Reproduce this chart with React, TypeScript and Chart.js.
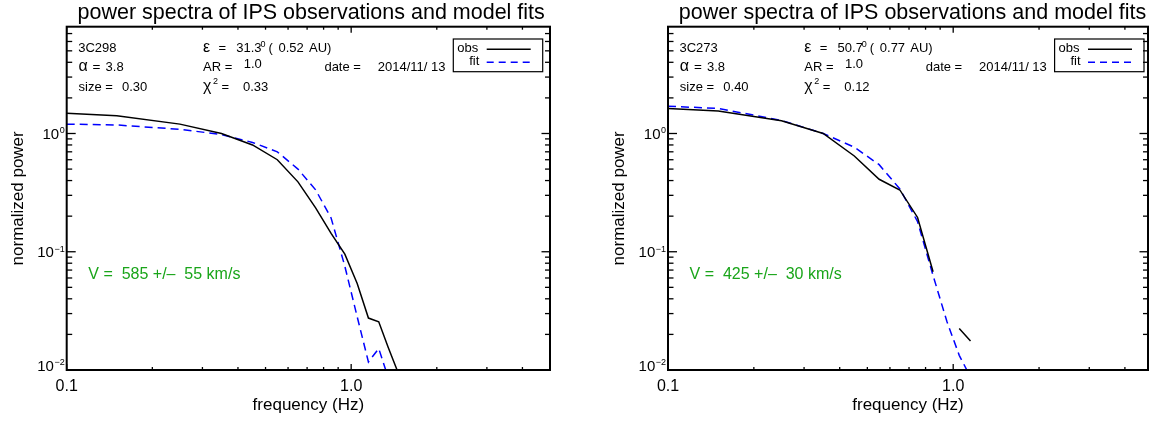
import React, { useEffect, useRef } from 'react';
import { Chart, registerables } from 'chart.js';

Chart.register(...registerables);

// ---------- data ----------
const TITLE = 'power spectra of IPS observations and model fits';
const X_LABEL = 'frequency (Hz)';
const Y_LABEL = 'normalized power';

const xMajorTicks = [0.1, 1.0];
const xMajorLabels = ['0.1', '1.0'];
const xMinorTicks = [0.2, 0.3, 0.4, 0.5, 0.6, 0.7, 0.8, 0.9, 2, 3, 4, 5];
const yMajorTicks = [0.01, 0.1, 1];
const yMajorExponents = ['\u22122', '\u22121', '0'];
const yMinorTicks = [
  0.02, 0.03, 0.04, 0.05, 0.06, 0.07, 0.08, 0.09,
  0.2, 0.3, 0.4, 0.5, 0.6, 0.7, 0.8, 0.9,
  2, 3, 4, 5, 6, 7, 8,
];

const freqLeft = [0.1, 0.15, 0.25, 0.35, 0.45, 0.55, 0.65, 0.75, 0.85, 0.95, 1.05, 1.15, 1.25, 1.35, 1.45, 1.55];
const obsLeft = [1.48, 1.41, 1.2, 1.0, 0.8, 0.6, 0.39, 0.235, 0.143, 0.0955, 0.0538, 0.0275, 0.0256, 0.0155, 0.01, 0.0065];
const fitLeft = [1.2, 1.18, 1.085, 0.98, 0.84, 0.7, 0.5, 0.334, 0.193, 0.0755, 0.0282, 0.0117, 0.0152, 0.0086, 0.005, 0.003];

const freqRight = [0.1, 0.15, 0.25, 0.35, 0.45, 0.55, 0.65, 0.75, 0.85, 0.95, 1.05, 1.15];
const obsRight = [1.63, 1.55, 1.28, 1.0, 0.645, 0.41, 0.333, 0.195, 0.0677, null, 0.0224, 0.0176];
const fitRight = [1.7, 1.63, 1.29, 1.0, 0.766, 0.545, 0.34, 0.18, 0.063, 0.0258, 0.0133, 0.0087];

const sourcesNames = ['3C298', '3C273'];
const elongations = ['31.3', '50.7'];
const distances = ['0.52', '0.77'];
const alphas = ['3.8', '3.8'];
const axialRatios = ['1.0', '1.0'];
const dates = ['2014/11/ 13', '2014/11/ 13'];
const sizes = ['0.30', '0.40'];
const chi2s = ['0.33', '0.12'];
const velocities = ['585', '425'];
const velocityErrs = ['55', '30'];
const xMaxes = [5, 4.82];
const yRange = [0.01, 8];

// ---------- layout ----------
const FONT = '"Liberation Sans", Arial, Helvetica, sans-serif';
const W = 580;
const H = 421;
const PLOT_TOP = 26.7;
const PLOT_BOTTOM = 370;
const plotLefts = [66.7, 88];
const plotRights = [550, 568];

function makePlugin(i: number) {
  return {
    id: 'idlDecor' + i,
    afterDraw(chart: any) {
      const ctx: CanvasRenderingContext2D = chart.ctx;
      const { left: L, right: R, top: T, bottom: B } = chart.chartArea;
      const xs = chart.scales.x;
      const ys = chart.scales.y;
      const txt = (s: string, x: number, y: number, size: number, align: CanvasTextAlign = 'left', color = '#000') => {
        ctx.font = `${size}px ${FONT}`;
        ctx.fillStyle = color;
        ctx.textAlign = align;
        ctx.textBaseline = 'alphabetic';
        ctx.fillText(s, x, y);
      };
      ctx.save();
      // frame
      ctx.strokeStyle = '#000';
      ctx.lineWidth = 2;
      ctx.strokeRect(L, T, R - L, B - T);
      ctx.lineWidth = 1.3;
      const vline = (x: number, y0: number, y1: number) => {
        ctx.beginPath(); ctx.moveTo(x, y0); ctx.lineTo(x, y1); ctx.stroke();
      };
      const hline = (y: number, x0: number, x1: number) => {
        ctx.beginPath(); ctx.moveTo(x0, y); ctx.lineTo(x1, y); ctx.stroke();
      };
      // x ticks
      xMinorTicks.forEach((v) => {
        const x = xs.getPixelForValue(v);
        if (x <= L + 0.5 || x >= R - 0.5) return;
        vline(x, B, B - 3);
        vline(x, T, T + 3);
      });
      xMajorTicks.forEach((v, k) => {
        const x = xs.getPixelForValue(v);
        vline(x, B, B - 6);
        vline(x, T, T + 6);
        txt(xMajorLabels[k], x, 391, 16, 'center');
      });
      // y ticks
      yMinorTicks.forEach((v) => {
        const y = ys.getPixelForValue(v);
        if (y <= T + 0.5 || y >= B - 0.5) return;
        hline(y, L, L + 5.5);
        hline(y, R, R - 5);
      });
      yMajorTicks.forEach((v, k) => {
        const y = ys.getPixelForValue(v);
        hline(y, L, L + 9);
        hline(y, R, R - 8.5);
        const base = Math.min(y + 5.5, B + 0.5);
        ctx.font = `9px ${FONT}`;
        const supW = ctx.measureText(yMajorExponents[k]).width;
        txt(yMajorExponents[k], L - 2, base - 5.5, 9, 'right');
        txt('10', L - 2.5 - supW, base, 15, 'right');
      });
      // axis titles
      txt(X_LABEL, (L + R) / 2, 410, 17, 'center');
      ctx.save();
      ctx.translate(L - 44, (T + B) / 2);
      ctx.rotate(-Math.PI / 2);
      txt(Y_LABEL, 0, 0, 17, 'center');
      ctx.restore();
      // title
      txt(TITLE, L + 244.5, 19, 21.5, 'center');
      // annotations
      txt(sourcesNames[i], L + 11.5, 52, 13);
      txt('\u03b5', L + 136.3, 52, 16);
      txt('=', L + 151.8, 52, 13);
      txt(elongations[i], L + 169.6, 52, 13);
      txt('0', L + 193.7, 47, 9);
      txt('(', L + 201.8, 52, 13);
      txt(distances[i], L + 211.8, 52, 13);
      txt('AU)', L + 242.3, 52, 13);

      txt('\u03b1', L + 11.8, 71, 16);
      txt('=', L + 25.9, 71, 13.5);
      txt(alphas[i], L + 38.9, 71, 13);
      txt('AR =', L + 136.3, 71, 13);
      txt(axialRatios[i], L + 177, 67.7, 13);
      txt('date =', L + 257.7, 71, 13);
      txt(dates[i], L + 311.1, 71, 13);

      txt('size =', L + 11.8, 91, 13);
      txt(sizes[i], L + 55.3, 91, 13);
      txt('\u03c7', L + 136.3, 91, 16);
      txt('2', L + 146.3, 84, 9);
      txt('=', L + 154.8, 91, 13);
      txt(chi2s[i], L + 176.3, 91, 13);

      txt(`V =  ${velocities[i]} +/\u2013  ${velocityErrs[i]} km/s`, L + 21.6, 279.3, 16, 'left', '#1aa51a');

      // legend
      ctx.lineWidth = 1.2;
      ctx.strokeStyle = '#000';
      ctx.strokeRect(L + 386.6, 39, 89.4, 32.7);
      txt('obs', L + 390.6, 52.3, 13);
      txt('fit', L + 412.6, 65, 13, 'right');
      ctx.lineWidth = 1.5;
      ctx.setLineDash([]);
      hline(49.3, L + 420, L + 464);
      ctx.strokeStyle = '#0000ff';
      ctx.setLineDash([7, 5]);
      hline(62.3, L + 420, L + 464);
      ctx.setLineDash([]);
      ctx.restore();
    },
  };
}

function Panel({ i, freq, obs, fit }: { i: number; freq: number[]; obs: (number | null)[]; fit: number[] }) {
  const ref = useRef<HTMLCanvasElement>(null);
  useEffect(() => {
    if (!ref.current) return;
    const L = plotLefts[i];
    const R = plotRights[i];
    const chart = new Chart(ref.current, {
      type: 'line',
      data: {
        datasets: [
          {
            label: 'obs',
            data: freq.map((f, k) => ({ x: f, y: obs[k] as any })),
            borderColor: '#000',
            borderWidth: 1.5,
            pointRadius: 0,
            tension: 0,
            spanGaps: false,
          },
          {
            label: 'fit',
            data: freq.map((f, k) => ({ x: f, y: fit[k] })),
            borderColor: '#0000ff',
            borderWidth: 1.5,
            borderDash: [8, 5],
            pointRadius: 0,
            tension: 0,
          },
        ],
      },
      options: {
        responsive: false,
        animation: false,
        events: [],
        layout: { padding: { left: 0, right: W - R, top: PLOT_TOP, bottom: 0 } },
        plugins: { legend: { display: false }, title: { display: false }, tooltip: { enabled: false } },
        scales: {
          x: {
            type: 'logarithmic',
            min: 0.1,
            max: xMaxes[i],
            position: 'bottom',
            ticks: { display: false },
            grid: { display: false },
            border: { display: false },
            afterFit: (s: any) => { s.height = H - PLOT_BOTTOM; },
          },
          y: {
            type: 'logarithmic',
            min: yRange[0],
            max: yRange[1],
            position: 'left',
            ticks: { display: false },
            grid: { display: false },
            border: { display: false },
            afterFit: (s: any) => { s.width = L; },
          },
        },
      } as any,
      plugins: [makePlugin(i)],
    });
    return () => chart.destroy();
  }, []);
  return (
    <div style={{ position: 'absolute', left: i * W, top: 0, width: W, height: H }}>
      <canvas ref={ref} width={W} height={H} style={{ width: W, height: H, display: 'block' }} />
    </div>
  );
}

export default function App() {
  return (
    <div style={{ position: 'fixed', left: 0, top: 0, width: 1160, height: 421, background: '#fff', overflow: 'hidden' }}>
      <Panel i={0} freq={freqLeft} obs={obsLeft} fit={fitLeft} />
      <Panel i={1} freq={freqRight} obs={obsRight} fit={fitRight} />
    </div>
  );
}
